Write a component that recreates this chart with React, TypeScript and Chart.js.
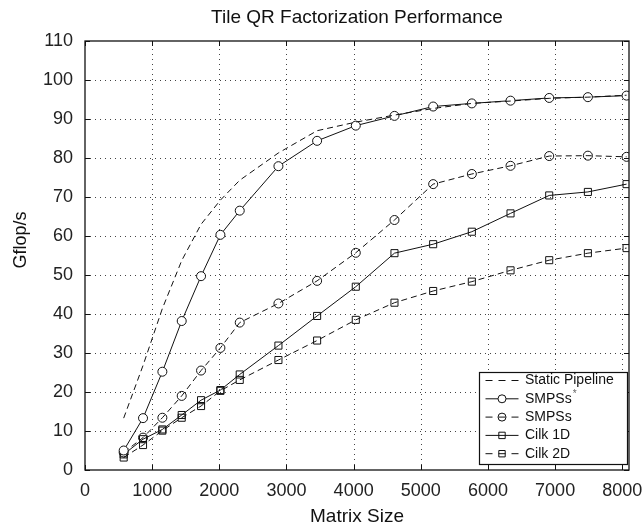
import React, { useEffect, useRef } from 'react';
import { Chart, registerables } from 'chart.js';

Chart.register(...registerables);

// ---------- data ----------
const matrixSizes = [576, 864, 1152, 1440, 1728, 2016, 2304, 2880, 3456, 4032, 4608, 5184, 5760, 6336, 6912, 7488, 8064];
const staticPipeline = [13.3, 26.8, 41.4, 53.7, 63.0, 69.2, 74.3, 81.3, 87.0, 89.2, 91.0, 92.7, 94.0, 94.6, 95.3, 95.6, 96.1];
const smpssStar = [5.0, 13.3, 25.2, 38.2, 49.7, 60.3, 66.5, 77.9, 84.4, 88.3, 90.8, 93.2, 94.0, 94.7, 95.4, 95.6, 96.0];
const smpss = [4.5, 8.3, 13.4, 19.0, 25.5, 31.3, 37.8, 42.7, 48.5, 55.7, 64.1, 73.3, 75.9, 78.0, 80.5, 80.6, 80.3];
const cilk1d = [4.0, 7.9, 10.4, 14.1, 17.9, 20.5, 24.5, 31.9, 39.5, 47.0, 55.6, 57.9, 61.1, 65.8, 70.4, 71.3, 73.3];
const cilk2d = [3.2, 6.4, 10.1, 13.4, 16.4, 20.3, 23.1, 28.2, 33.2, 38.5, 42.9, 45.9, 48.3, 51.2, 53.8, 55.6, 56.9];
const seriesNames = ['Static Pipeline', 'SMPSs*', 'SMPSs', 'Cilk 1D', 'Cilk 2D'];
const xTicks = [0, 1000, 2000, 3000, 4000, 5000, 6000, 7000, 8000];
const yTicks = [0, 10, 20, 30, 40, 50, 60, 70, 80, 90, 100, 110];
const chartTitle = 'Tile QR Factorization Performance';
const xTitle = 'Matrix Size';
const yTitle = 'Gflop/s';

const FONT = "'Liberation Sans', Arial, Helvetica, sans-serif";
const DASH = [6, 4];

const toPoints = (vals: number[]) => matrixSizes.map((x, i) => ({ x, y: vals[i] }));

const framePlugin = {
  id: 'frame',
  beforeDatasetsDraw(chart: any) {
    const { ctx, chartArea: a, scales } = chart;
    const x = scales.x, y = scales.y;
    ctx.save();
    ctx.strokeStyle = '#444';
    ctx.lineWidth = 1;
    ctx.setLineDash([1, 4]);
    x.ticks.forEach((t: any) => {
      const px = Math.round(x.getPixelForValue(t.value)) + 0.5;
      if (px <= a.left + 1 || px >= a.right - 1) return;
      ctx.beginPath();
      ctx.moveTo(px, a.bottom);
      ctx.lineTo(px, a.top);
      ctx.stroke();
    });
    y.ticks.forEach((t: any) => {
      const py = Math.round(y.getPixelForValue(t.value)) + 0.5;
      if (py <= a.top + 1 || py >= a.bottom - 1) return;
      ctx.beginPath();
      ctx.moveTo(a.left, py);
      ctx.lineTo(a.right, py);
      ctx.stroke();
    });
    ctx.restore();
  },
  afterDatasetsDraw(chart: any) {
    const { ctx, chartArea: a, scales } = chart;
    const x = scales.x, y = scales.y;
    ctx.save();
    ctx.setLineDash([]);
    ctx.strokeStyle = '#111';
    ctx.lineWidth = 1.3;
    ctx.strokeRect(a.left, a.top, a.right - a.left, a.bottom - a.top);
    // inward ticks
    ctx.lineWidth = 1;
    const tl = 5;
    x.ticks.forEach((t: any) => {
      const px = Math.round(x.getPixelForValue(t.value)) + 0.5;
      ctx.beginPath();
      ctx.moveTo(px, a.bottom); ctx.lineTo(px, a.bottom - tl);
      ctx.moveTo(px, a.top); ctx.lineTo(px, a.top + tl);
      ctx.stroke();
    });
    y.ticks.forEach((t: any) => {
      const py = Math.round(y.getPixelForValue(t.value)) + 0.5;
      ctx.beginPath();
      ctx.moveTo(a.left, py); ctx.lineTo(a.left + tl, py);
      ctx.moveTo(a.right, py); ctx.lineTo(a.right - tl, py);
      ctx.stroke();
    });

    // legend
    const lw = 148, lh = 92;
    const lx = a.right - 2 - lw, ly = a.bottom - 6 - lh;
    ctx.fillStyle = '#fff';
    ctx.fillRect(lx, ly, lw, lh);
    ctx.strokeStyle = '#111';
    ctx.lineWidth = 1.2;
    ctx.strokeRect(lx + 0.5, ly + 0.5, lw, lh);
    chart.data.datasets.forEach((ds: any, i: number) => {
      const cy = ly + 8.5 + i * 18.3;
      const x0 = lx + 6.5, x1 = lx + 39.5, mx = (x0 + x1) / 2;
      ctx.strokeStyle = '#111';
      ctx.lineWidth = 1;
      ctx.setLineDash(ds.borderDash && ds.borderDash.length ? [7, 6] : []);
      ctx.beginPath();
      ctx.moveTo(x0, cy); ctx.lineTo(x1, cy);
      ctx.stroke();
      ctx.setLineDash([]);
      if (ds.pointRadius > 0) {
        ctx.beginPath();
        if (ds.pointStyle === 'rect') {
          ctx.rect(mx - 3.2, cy - 3.2, 6.4, 6.4);
        } else {
          ctx.arc(mx, cy, 4, 0, Math.PI * 2);
        }
        if (ds.pointBackgroundColor === '#fff') { ctx.fillStyle = '#fff'; ctx.fill(); }
        ctx.stroke();
      }
      const label: string = ds.label;
      ctx.fillStyle = '#111';
      ctx.font = `14px ${FONT}`;
      ctx.textAlign = 'left';
      ctx.textBaseline = 'middle';
      const tx = lx + 46;
      if (label.endsWith('*')) {
        const base = label.slice(0, -1);
        ctx.fillText(base, tx, cy);
        const w = ctx.measureText(base).width;
        ctx.font = `10px ${FONT}`;
        ctx.fillStyle = '#666';
        ctx.fillText('*', tx + w + 1, cy - 5);
      } else {
        ctx.fillText(label, tx, cy);
      }
    });

    // titles
    ctx.fillStyle = '#111';
    ctx.textAlign = 'center';
    ctx.textBaseline = 'middle';
    const cx = (a.left + a.right) / 2;
    ctx.font = `19px ${FONT}`;
    ctx.fillText(chartTitle, cx, 18);
    ctx.font = `19px ${FONT}`;
    ctx.fillText(xTitle, cx, 517);
    ctx.translate(21, 240);
    ctx.rotate(-Math.PI / 2);
    ctx.font = `18px ${FONT}`;
    ctx.fillText(yTitle, 0, 0);
    ctx.restore();
  },
};

export default function App() {
  const ref = useRef<HTMLCanvasElement>(null);
  useEffect(() => {
    document.body.style.margin = '0';
    const canvas = ref.current!;
    const base = {
      borderColor: '#111',
      borderWidth: 1,
      pointBorderColor: '#111',
      pointBorderWidth: 1,
      tension: 0,
      fill: false,
    };
    const chart = new Chart(canvas, {
      type: 'line',
      data: {
        datasets: [
          { ...base, label: seriesNames[0], data: toPoints(staticPipeline), borderDash: DASH, pointRadius: 0 },
          { ...base, label: seriesNames[1], data: toPoints(smpssStar), pointStyle: 'circle', pointRadius: 4.5, pointBackgroundColor: '#fff' },
          { ...base, label: seriesNames[2], data: toPoints(smpss), borderDash: DASH, pointStyle: 'circle', pointRadius: 4.5, pointBackgroundColor: 'rgba(0,0,0,0)' },
          { ...base, label: seriesNames[3], data: toPoints(cilk1d), pointStyle: 'rect', pointRadius: 5, pointBackgroundColor: 'rgba(0,0,0,0)' },
          { ...base, label: seriesNames[4], data: toPoints(cilk2d), borderDash: DASH, pointStyle: 'rect', pointRadius: 5, pointBackgroundColor: 'rgba(0,0,0,0)' },
        ] as any,
      },
      options: {
        responsive: false,
        devicePixelRatio: 1,
        animation: false,
        events: [],
        layout: { padding: { top: 41, right: 14, left: 0, bottom: 0 } },
        plugins: { legend: { display: false }, tooltip: { enabled: false }, title: { display: false } },
        scales: {
          x: {
            type: 'linear',
            min: 0,
            max: 8100,
            grid: { display: false },
            border: { display: false },
            afterBuildTicks: (s: any) => { s.ticks = xTicks.map((v) => ({ value: v })); },
            afterFit: (s: any) => { s.height = 59; s.paddingLeft = 0; s.paddingRight = 0; },
            ticks: {
              padding: 2,
              color: '#222',
              maxRotation: 0,
              autoSkip: false,
              font: { size: 18, family: FONT },
              callback: (v: any) => String(v),
            },
          },
          y: {
            type: 'linear',
            min: 0,
            max: 110,
            grid: { display: false },
            border: { display: false },
            afterBuildTicks: (s: any) => { s.ticks = yTicks.map((v) => ({ value: v })); },
            afterFit: (s: any) => { s.width = 85; s.paddingTop = 0; s.paddingBottom = 0; },
            ticks: {
              padding: 4,
              color: '#222',
              autoSkip: false,
              font: { size: 18, family: FONT },
              callback: (v: any) => String(v),
            },
          },
        },
      } as any,
      plugins: [framePlugin],
    });
    return () => chart.destroy();
  }, []);
  return (
    <div style={{ width: 643, height: 529 }}>
      <canvas ref={ref} width={643} height={529} style={{ display: 'block' }} />
    </div>
  );
}
